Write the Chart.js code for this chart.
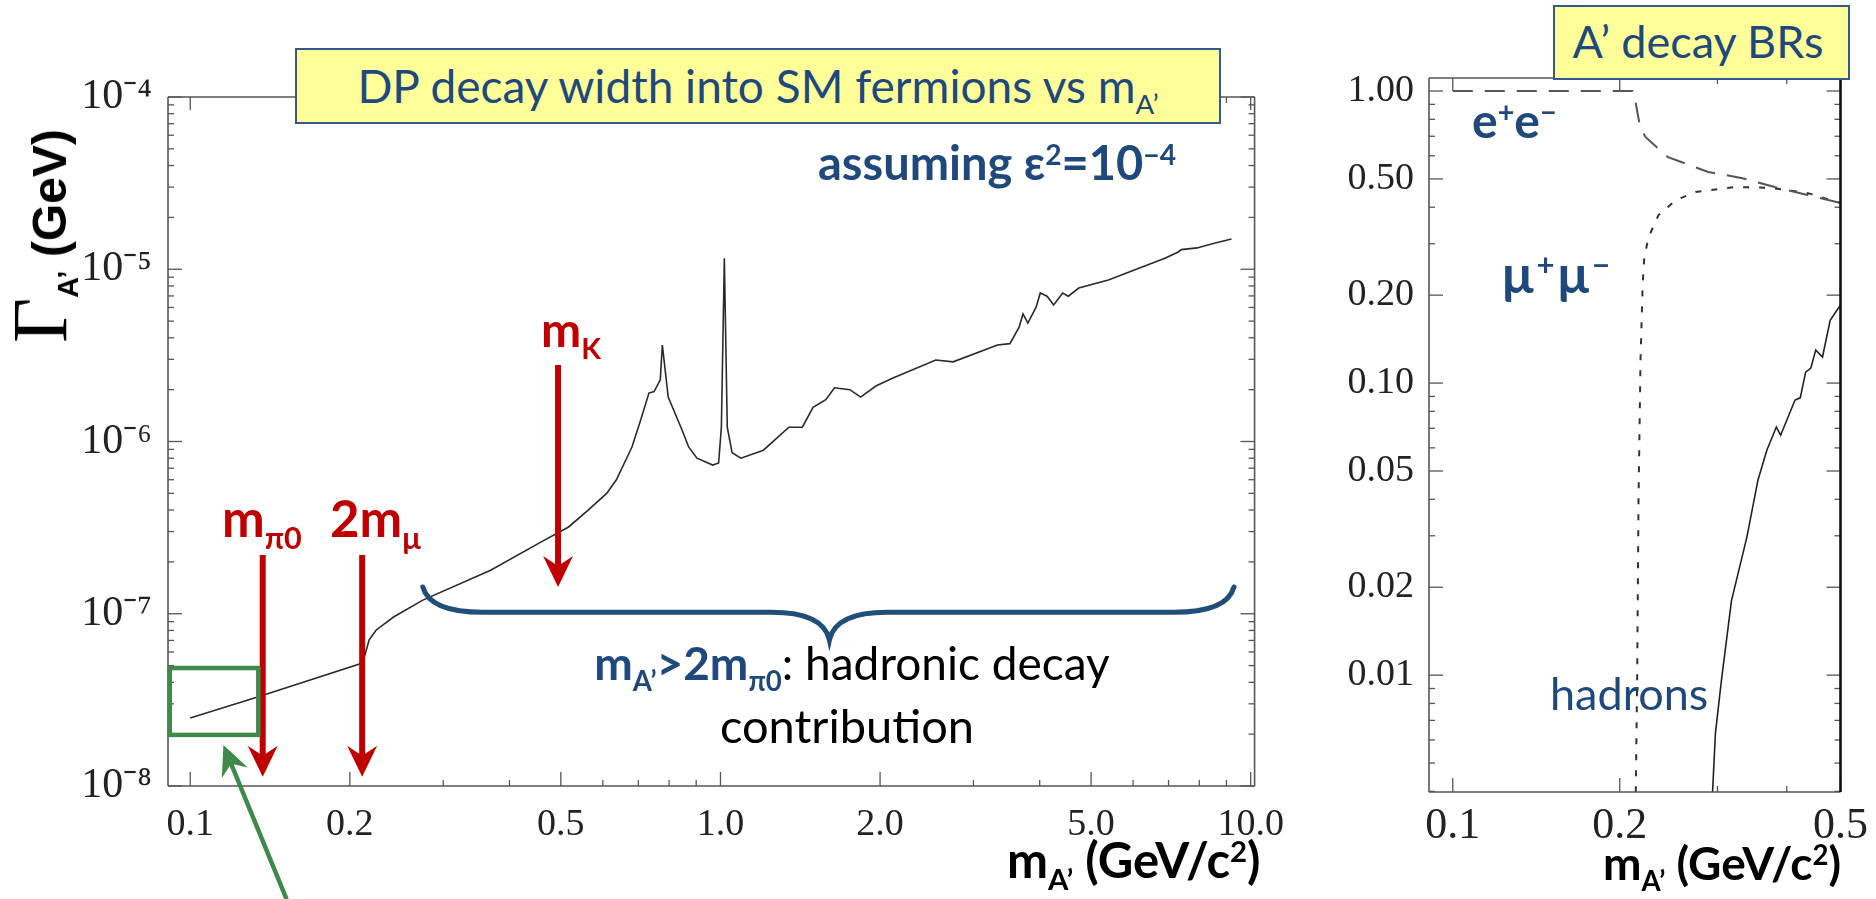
<!DOCTYPE html>
<html>
<head>
<meta charset="utf-8">
<script src="https://cdn.jsdelivr.net/npm/chart.js@4.4.0/dist/chart.umd.min.js"></script>
<style>
  body { margin: 0; background: #fff; }
  #wrap { position: relative; width: 1876px; height: 899px; overflow: hidden; font-family: Lato, sans-serif; }
  canvas { position: absolute; top: 0; }
  .t { position: absolute; white-space: nowrap; line-height: 1; }
  .bl { display: inline-block; width: 0; height: 0; }
  .blue { color: #1f497d; }
  .red { color: #c00000; }
  .b { font-weight: bold; }
  .box { position: absolute; background: #ffff99; border: 2px solid #34588f; box-sizing: border-box; }
  sup { font-size: 60%; vertical-align: 0.55em; line-height: 0; }
  sub { font-size: 60%; vertical-align: -0.4em; line-height: 0; }
  #ytitle { position: absolute; left: 40px; top: 236px; white-space: nowrap; line-height: 1;
            transform: translate(-50%, -50%) rotate(-90deg);
            font-family: 'Liberation Sans', Arial, sans-serif; font-weight: bold; font-size: 48px; }
</style>
</head>
<body>
<div id="wrap">
  <canvas id="width" width="1300" height="899" style="left:0"></canvas>
  <canvas id="brs" width="576" height="899" style="left:1300px"></canvas>
  <div class="box" style="left:295px;top:48px;width:926px;height:76px"></div>
  <div class="box" style="left:1553px;top:5px;width:297px;height:75px"></div>
  <div id="ytitle"><span style="font-family:'Liberation Serif',serif;font-weight:normal;font-size:78px">Γ</span><sub>A’</sub> (GeV)</div>
</div>
<script>
// left panel: A' total width into SM fermions, eps^2 = 1e-4
const widthMass = [0.1, 0.134, 0.2085, 0.213, 0.2175, 0.2243, 0.2418, 0.2746, 0.3686, 0.4557,
  0.5171, 0.563, 0.61, 0.636, 0.681, 0.707, 0.733, 0.7495, 0.770, 0.777, 0.797, 0.846, 0.871,
  0.903, 0.967, 0.992, 1.004, 1.017, 1.030, 1.052, 1.093, 1.205, 1.346, 1.427, 1.495, 1.58,
  1.641, 1.754, 1.838, 1.964, 2.11, 2.547, 2.747, 3.33, 3.515, 3.66, 3.72, 3.80, 3.94, 4.01,
  4.13, 4.25, 4.42, 4.53, 4.74, 5.39, 6.89, 7.3, 7.4, 7.92, 8.5, 9.2];
const widthGamma = [2.48e-8, 3.29e-8, 5.1e-8, 5.6e-8, 7.05e-8, 8.05e-8, 9.57e-8, 1.2e-7, 1.79e-7, 2.58e-7,
  3.19e-7, 4.0e-7, 5.0e-7, 5.97e-7, 9.29e-7, 1.33e-6, 1.91e-6, 1.95e-6, 2.28e-6, 3.63e-6, 1.81e-6, 1.17e-6, 9.3e-7,
  8.0e-7, 7.3e-7, 7.5e-7, 1.21e-6, 1.16e-5, 1.21e-6, 8.6e-7, 8.0e-7, 8.9e-7, 1.21e-6, 1.21e-6, 1.58e-6, 1.75e-6,
  2.05e-6, 2.0e-6, 1.81e-6, 2.1e-6, 2.33e-6, 2.97e-6, 2.9e-6, 3.63e-6, 3.7e-6, 4.62e-6, 5.5e-6, 4.87e-6, 6.04e-6, 7.28e-6,
  6.97e-6, 6.2e-6, 7.28e-6, 6.97e-6, 7.78e-6, 8.67e-6, 1.16e-5, 1.26e-5, 1.3e-5, 1.33e-5, 1.41e-5, 1.5e-5];

const widthXTicks = [0.1, 0.2, 0.5, 1, 2, 5, 10];
const widthXLabels = ['0.1', '0.2', '0.5', '1.0', '2.0', '5.0', '10.0'];
const widthYTicks = [1e-8, 1e-7, 1e-6, 1e-5, 1e-4];
const widthYLabels = ['10⁻⁸', '10⁻⁷', '10⁻⁶', '10⁻⁵', '10⁻⁴'];

// arrows: mpi0, 2 mmu, mK
const markerMass = [0.137, 0.211, 0.494];
const markerTop = [2.19e-7, 2.19e-7, 2.78e-6];
const markerTip = [1.13e-8, 1.13e-8, 1.43e-7];
// green box + arrow, blue brace (data units)
const boxMass = [0.0915, 0.1344];
const boxGamma = [1.98e-8, 4.84e-8];
const greenFrom = [0.152, 2.2e-9];
const greenTo = [0.1155, 1.73e-8];
const braceMass = [0.2746, 1.605, 9.3];
const braceGamma = [1.43e-7, 1.02e-7, 7.05e-8];

// right panel: branching ratios
const eeMass = [0.1, 0.211, 0.2137, 0.2176, 0.2225, 0.2443, 0.2888, 0.3311, 0.3807, 0.5];
const eeBR = [1.0, 1.0, 0.91, 0.753, 0.696, 0.594, 0.528, 0.504, 0.469, 0.4135];
const muMass = [0.2136, 0.215, 0.2162, 0.218, 0.22, 0.2215, 0.2254, 0.2349, 0.2523, 0.274, 0.3229, 0.3745, 0.4367, 0.5];
const muBR = [0.0035, 0.01, 0.04, 0.12, 0.22, 0.27, 0.316, 0.376, 0.423, 0.451, 0.469, 0.466, 0.447, 0.414];
const hadMass = [0.293, 0.2975, 0.305, 0.318, 0.339, 0.355, 0.3684, 0.3831, 0.390, 0.414, 0.423, 0.4327,
  0.442, 0.4512, 0.464, 0.479, 0.5];
const hadBR = [0.0035, 0.00633, 0.0096, 0.018, 0.0297, 0.0466, 0.059, 0.0707, 0.0663, 0.0875, 0.089, 0.109,
  0.1125, 0.1297, 0.1228, 0.164, 0.185];

const brXTicks = [0.1, 0.2, 0.5];
const brXLabels = ['0.1', '0.2', '0.5'];
const brYTicks = [0.01, 0.02, 0.05, 0.1, 0.2, 0.5, 1];
const brYLabels = ['0.01', '0.02', '0.05', '0.10', '0.20', '0.50', '1.00'];

const RED = '#c00000', BLUE = '#1f4e79', GREEN = '#3f8a4a';

function pts(xs, ys) { return xs.map((v, i) => ({ x: v, y: ys[i] })); }

function minors(min, max) {
  const out = [];
  for (let e = Math.floor(Math.log10(min)); e <= Math.ceil(Math.log10(max)); e++) {
    for (let k = 2; k <= 9; k++) {
      const v = k * Math.pow(10, e);
      if (v > min && v < max) out.push(v);
    }
  }
  return out;
}

// frame with inward major/minor ticks on all four sides
function framePlugin(xMajor, yMajor, rightColor) {
  return {
    id: 'frame',
    afterDraw(chart) {
      const { ctx, chartArea: a, scales: { x, y } } = chart;
      const seg = (x0, y0, x1, y1) => { ctx.beginPath(); ctx.moveTo(x0, y0); ctx.lineTo(x1, y1); ctx.stroke(); };
      ctx.save();
      ctx.strokeStyle = '#555';
      ctx.lineWidth = 1.6;
      seg(a.left, a.top, a.right, a.top);
      seg(a.left, a.bottom, a.right, a.bottom);
      seg(a.left, a.top, a.left, a.bottom);
      const xMin = minors(x.min, x.max).filter(v => !xMajor.includes(v));
      const yMin = minors(y.min, y.max).filter(v => !yMajor.some(t => Math.abs(t - v) / v < 1e-6));
      ctx.lineWidth = 1.3;
      xMajor.forEach(v => { const p = x.getPixelForValue(v); seg(p, a.bottom, p, a.bottom - 14); seg(p, a.top, p, a.top + 13); });
      xMin.forEach(v => { const p = x.getPixelForValue(v); seg(p, a.bottom, p, a.bottom - 6); seg(p, a.top, p, a.top + 6); });
      yMajor.forEach(v => { const p = y.getPixelForValue(v); seg(a.left, p, a.left + 14, p); seg(a.right, p, a.right - 14, p); });
      yMin.forEach(v => { const p = y.getPixelForValue(v); seg(a.left, p, a.left + 6, p); seg(a.right, p, a.right - 6, p); });
      ctx.strokeStyle = rightColor;
      ctx.lineWidth = rightColor === '#555' ? 1.6 : 2.6;
      seg(a.right, a.top, a.right, a.bottom);
      ctx.restore();
    }
  };
}

function arrow(ctx, x0, y0, x1, y1, lw, hl, hw) {
  const L = Math.hypot(x1 - x0, y1 - y0), ux = (x1 - x0) / L, uy = (y1 - y0) / L, nx = -uy, ny = ux;
  ctx.lineWidth = lw;
  ctx.beginPath(); ctx.moveTo(x0, y0); ctx.lineTo(x1 - ux * hl * 0.6, y1 - uy * hl * 0.6); ctx.stroke();
  ctx.beginPath();
  ctx.moveTo(x1, y1);
  ctx.lineTo(x1 - ux * hl + nx * hw / 2, y1 - uy * hl + ny * hw / 2);
  ctx.lineTo(x1 - ux * hl * 0.68, y1 - uy * hl * 0.68);
  ctx.lineTo(x1 - ux * hl - nx * hw / 2, y1 - uy * hl - ny * hw / 2);
  ctx.closePath(); ctx.fill();
}

const annotations = {
  id: 'annotations',
  afterDraw(chart) {
    const { ctx, scales: { x, y } } = chart;
    const px = v => x.getPixelForValue(v), py = v => y.getPixelForValue(v);
    ctx.save();
    ctx.strokeStyle = ctx.fillStyle = RED;
    markerMass.forEach((m, i) => arrow(ctx, px(m), py(markerTop[i]), px(m), py(markerTip[i]), 6, 31, 30));

    ctx.strokeStyle = GREEN; ctx.fillStyle = GREEN; ctx.lineWidth = 4.5;
    ctx.strokeRect(px(boxMass[0]), py(boxGamma[1]), px(boxMass[1]) - px(boxMass[0]), py(boxGamma[0]) - py(boxGamma[1]));
    arrow(ctx, px(greenFrom[0]), py(greenFrom[1]), px(greenTo[0]), py(greenTo[1]), 4.5, 30, 28);

    const xl = px(braceMass[0]), xm = px(braceMass[1]), xr = px(braceMass[2]);
    const ye = py(braceGamma[0]), yb = py(braceGamma[1]), yt = py(braceGamma[2]);
    ctx.strokeStyle = BLUE; ctx.lineWidth = 5; ctx.lineCap = 'round';
    ctx.beginPath();
    ctx.moveTo(xl, ye);
    ctx.quadraticCurveTo(xl + 7, yb, xl + 60, yb);
    ctx.lineTo(xm - 58, yb);
    ctx.quadraticCurveTo(xm - 6, yb, xm, yt);
    ctx.quadraticCurveTo(xm + 6, yb, xm + 58, yb);
    ctx.lineTo(xr - 60, yb);
    ctx.quadraticCurveTo(xr - 7, yb, xr, ye);
    ctx.stroke();
    ctx.restore();
  }
};

function logAxis(min, max, ticks, labels, size, pad, fit) {
  return {
    type: 'logarithmic', min: min, max: max,
    grid: { display: false, drawTicks: false }, border: { display: false },
    ticks: {
      autoSkip: false, maxRotation: 0, padding: pad, color: '#222',
      font: { family: "'Liberation Serif', serif", size: size },
      callback: (v, i) => labels[i]
    },
    afterBuildTicks: s => { s.ticks = ticks.map(v => ({ value: v })); },
    afterFit: fit
  };
}

new Chart(document.getElementById('width'), {
  type: 'line',
  data: { datasets: [{ data: pts(widthMass, widthGamma), borderColor: '#2a2a2a', borderWidth: 1.6, pointRadius: 0, tension: 0 }] },
  options: {
    responsive: false, animation: false, devicePixelRatio: 1,
    layout: { padding: { top: 97, right: 16, left: 0, bottom: 0 } },
    plugins: { legend: { display: false }, tooltip: { enabled: false } },
    scales: {
      x: logAxis(0.0908, 10.17, widthXTicks, widthXLabels, 38, 16, s => { s.height = 113; }),
      y: logAxis(1e-8, 1e-4, widthYTicks, widthYLabels, 42, 16, s => { s.width = 168; })
    }
  },
  plugins: [framePlugin(widthXTicks, widthYTicks, '#555'), annotations]
});

new Chart(document.getElementById('brs'), {
  type: 'line',
  data: { datasets: [
    { data: pts(eeMass, eeBR), borderColor: '#555', borderWidth: 2, borderDash: [20, 12], pointRadius: 0 },
    { data: pts(muMass, muBR), borderColor: '#333', borderWidth: 2, borderDash: [6, 10], pointRadius: 0 },
    { data: pts(hadMass, hadBR), borderColor: '#222', borderWidth: 1.6, pointRadius: 0 }
  ] },
  options: {
    responsive: false, animation: false, devicePixelRatio: 1,
    layout: { padding: { top: 78, right: 33, left: 0, bottom: 0 } },
    plugins: { legend: { display: false }, tooltip: { enabled: false } },
    scales: {
      x: logAxis(0.0906, 0.5, brXTicks, brXLabels, 44, 8, s => { s.height = 107; }),
      y: logAxis(0.00398, 1.108, brYTicks, brYLabels, 38, 15, s => { s.width = 129; })
    }
  },
  plugins: [framePlugin(brXTicks, brYTicks, '#111')]
});

// text overlays, placed by baseline
const texts = [
  { html: 'DP decay width into SM fermions vs m<sub>A’</sub>', x: 758, y: 103, align: 'center', cls: 'blue', size: 46 },
  { html: 'A’ decay BRs', x: 1698, y: 58, align: 'center', cls: 'blue', size: 45 },
  { html: 'assuming ε<sup>2</sup>=10<sup>−4</sup>', x: 818, y: 180, cls: 'blue b', size: 47 },
  { html: 'm<sub>K</sub>', x: 541, y: 347, cls: 'red b', size: 48 },
  { html: 'm<sub>π0</sub>', x: 222, y: 537, cls: 'red b', size: 51 },
  { html: '2m<sub>μ</sub>', x: 330, y: 537, cls: 'red b', size: 51 },
  { html: '<b class="blue">m<sub>A’</sub>&gt;2m<sub>π0</sub></b>: hadronic decay', x: 852, y: 680, align: 'center', cls: '', size: 46 },
  { html: 'contribution', x: 847, y: 743, align: 'center', cls: '', size: 47 },
  { html: 'm<sub>A’</sub> (GeV/c<sup>2</sup>)', x: 1007, y: 878, cls: 'b', size: 49 },
  { html: 'm<sub>A’</sub> (GeV/c<sup>2</sup>)', x: 1603, y: 880, cls: 'b', size: 46 },
  { html: 'e<sup>+</sup>e<sup>−</sup>', x: 1472, y: 138, cls: 'blue b', size: 48 },
  { html: 'μ<sup>+</sup>μ<sup>−</sup>', x: 1502, y: 293, cls: 'blue b', size: 52, ls: 3 },
  { html: 'hadrons', x: 1550, y: 710, cls: 'blue', size: 45 }
];

const wrap = document.getElementById('wrap');
texts.forEach(l => {
  const d = document.createElement('div');
  d.className = 't ' + l.cls;
  d.style.fontSize = l.size + 'px';
  if (l.ls) d.style.letterSpacing = l.ls + 'px';
  d.style.left = '0px';
  d.style.top = '0px';
  d.innerHTML = l.html + '<span class="bl"></span>';
  wrap.appendChild(d);
  const r = d.getBoundingClientRect();
  const b = d.querySelector('.bl').getBoundingClientRect();
  const left = l.align === 'center' ? l.x - r.width / 2 : l.x;
  d.style.left = left + 'px';
  d.style.top = (l.y - (b.top - r.top)) + 'px';
});
</script>
</body>
</html>
